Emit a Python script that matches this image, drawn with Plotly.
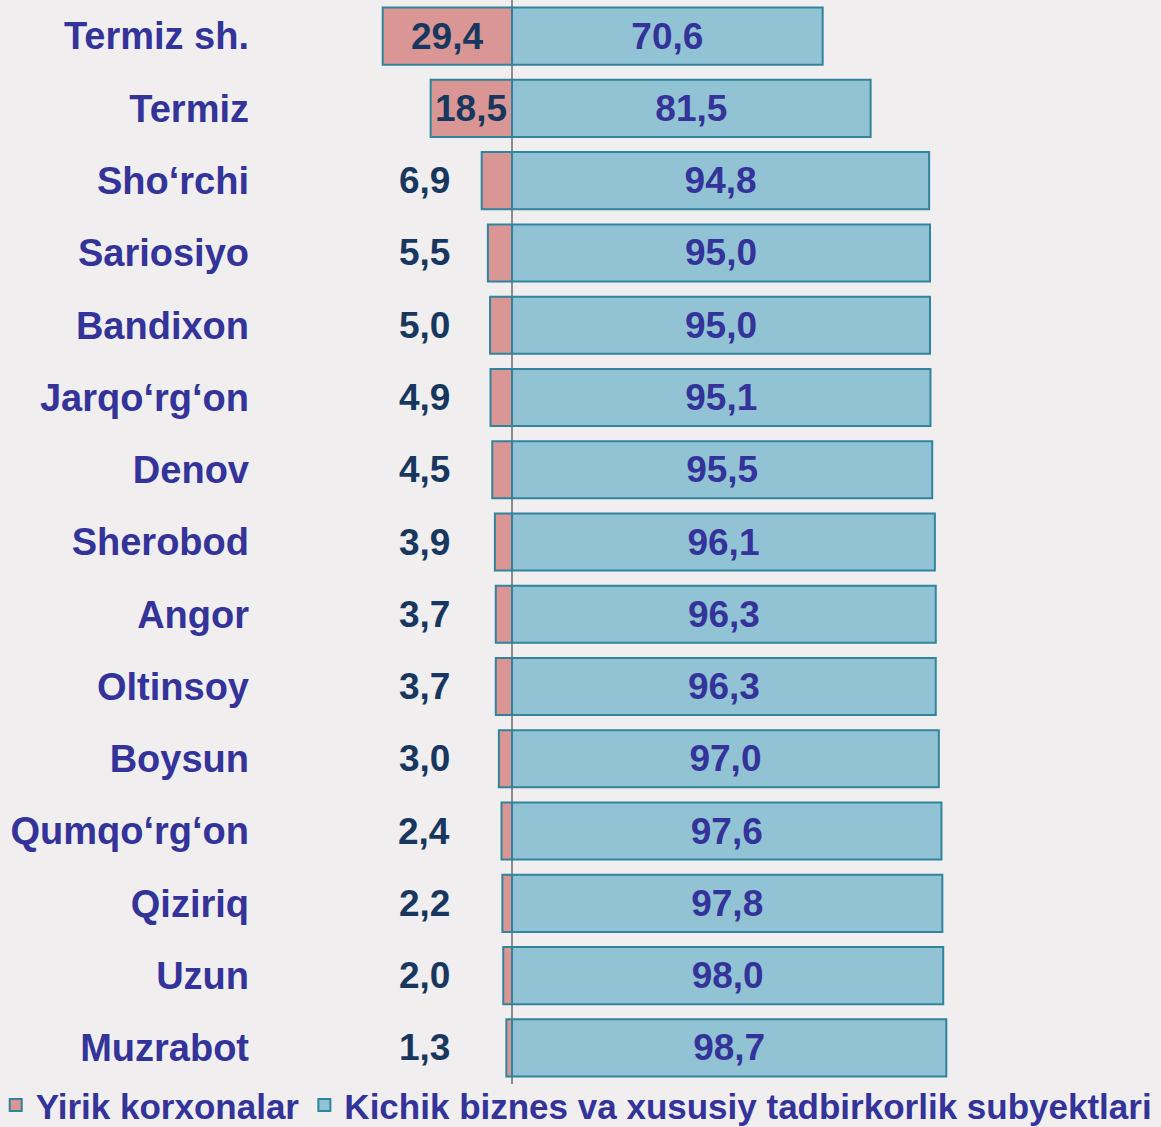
import plotly.graph_objects as go

categories = ["Termiz sh.", "Termiz", "Sho‘rchi", "Sariosiyo", "Bandixon", "Jarqo‘rg‘on",
              "Denov", "Sherobod", "Angor", "Oltinsoy", "Boysun", "Qumqo‘rg‘on",
              "Qiziriq", "Uzun", "Muzrabot"]
large = [29.4, 18.5, 6.9, 5.5, 5.0, 4.9, 4.5, 3.9, 3.7, 3.7, 3.0, 2.4, 2.2, 2.0, 1.3]
small = [70.6, 81.5, 94.8, 95.0, 95.0, 95.1, 95.5, 96.1, 96.3, 96.3, 97.0, 97.6, 97.8, 98.0, 98.7]
series_names = ["Yirik korxonalar", "Kichik biznes va xususiy tadbirkorlik subyektlari"]

FONT = "Liberation Sans, Arial, sans-serif"
BG = "#F0EEEF"
RED = "#DA9694"
BLUE = "#92C3D5"
EDGE = "#31849B"
NAVY = "#17375E"
PURPLE = "#333399"

def fmt(v):
    return f"{v:.1f}".replace(".", ",")

fig = go.Figure()
fig.add_trace(go.Bar(
    y=categories, x=[-v for v in large], orientation="h", name=series_names[0],
    marker=dict(color=RED, line=dict(color=EDGE, width=2)),
    hoverinfo="skip",
))
fig.add_trace(go.Bar(
    y=categories, x=small, orientation="h", name=series_names[1],
    marker=dict(color=BLUE, line=dict(color=EDGE, width=2)),
    text=[fmt(v) for v in small], textposition="inside", insidetextanchor="middle",
    textfont=dict(family=FONT, size=37, color=PURPLE, weight="bold"),
    textangle=0, hoverinfo="skip",
))

annotations = []
for cat, v in zip(categories, large):
    inside = v > 10
    annotations.append(dict(x=(-v / 2) if inside else -20, y=cat, text=fmt(v), showarrow=False,
                            xanchor="center", xref="x", yref="y",
                            font=dict(family=FONT, size=37, color=NAVY, weight="bold")))

fig.update_layout(
    width=1161, height=1127,
    margin=dict(l=256, r=0, t=0, b=43, autoexpand=False),
    paper_bgcolor=BG, plot_bgcolor=BG,
    barmode="relative", bargap=0.21,
    showlegend=True,
    legend=dict(orientation="h", x=-0.2876, xanchor="left", y=-0.0195, yanchor="middle",
                font=dict(family=FONT, size=35, color=PURPLE, weight="bold"),
                bgcolor="rgba(0,0,0,0)", itemwidth=30, tracegroupgap=0),
    xaxis=dict(range=[-58.2, 147.5], showgrid=False, showticklabels=False,
               zeroline=True, zerolinecolor="#8C8C8C", zerolinewidth=2, fixedrange=True),
    yaxis=dict(autorange="reversed", showgrid=False, ticks="",
               tickfont=dict(family=FONT, size=38, color=PURPLE, weight="bold"),
               ticklabelstandoff=6, fixedrange=True),
    annotations=annotations,
)

fig.write_html("out.html", config={"displayModeBar": False},
               post_script="document.body.style.margin='0';document.body.style.overflow='hidden';")
